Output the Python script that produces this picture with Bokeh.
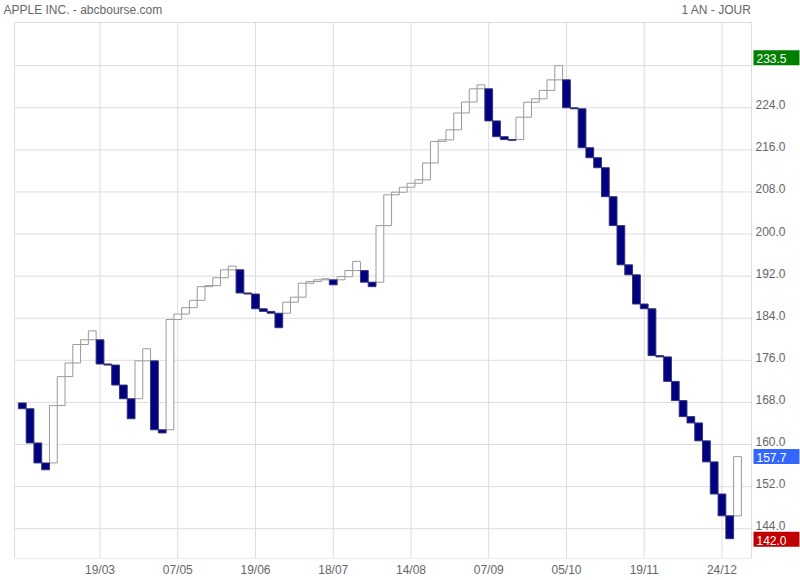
from bokeh.plotting import figure
from bokeh.models import ColumnDataSource, FixedTicker, Range1d
from bokeh.core.properties import value
from bokeh.embed import file_html
from bokeh.resources import INLINE

# ---- data (three-line-break boxes) ----
first_open = 167.9
closes = [166.8, 160.3, 156.5, 155.2, 167.4, 172.9, 175.5, 179.0, 179.9, 181.6,
          175.3, 175.1, 171.3, 168.7, 164.9, 175.9, 178.2, 162.8, 162.2, 183.75,
          184.8, 186.0, 187.4, 190.0, 190.2, 191.7, 193.2, 193.9, 188.8, 188.6,
          185.8, 185.3, 184.95, 182.2, 187.05, 188.0, 190.65, 190.97, 191.3, 191.5,
          190.35, 191.9, 193.06, 194.8, 190.85, 190.0, 201.6, 207.45, 207.95, 208.9,
          209.65, 210.3, 213.5, 217.6, 217.9, 219.8, 223.0, 225.1, 227.6, 228.35,
          221.5, 218.5, 217.95, 217.8, 222.2, 225.05, 225.7, 227.3, 229.3, 232.0,
          224.0, 223.8, 216.4, 214.5, 212.6, 207.1, 201.6, 194.15, 192.25, 186.7,
          185.8, 176.9, 176.65, 172.0, 168.35, 165.3, 164.1, 160.7, 156.7, 150.6,
          146.45, 142.1, 157.7]

tick_idx = [10, 20, 30, 40, 50, 60, 70, 80, 90]
tick_labels = ["19/03", "07/05", "19/06", "18/07", "14/08", "07/09", "05/10", "19/11", "24/12"]
y_label_ticks = [144, 152, 160, 168, 176, 184, 192, 200, 208, 216, 224]
y_grid_ticks = [144, 152, 160, 168, 176, 184, 192, 200, 208, 216, 224, 232]
mark_values = [233.5, 157.7, 142.0]
mark_colors = ["#008000", "#3366ff", "#c00000"]
title_left = "APPLE INC. - abcbourse.com"
title_right = "1 AN - JOUR"

# ---- layout constants ----
PX_X = 7.774      # pixels per box
PX_Y = 5.2625     # pixels per price unit
PLOT_X0, PLOT_X1 = -1.0, 93.8
PLOT_Y0, PLOT_Y1 = 138.34, 240.2
PAD_L, PAD_R, PAD_T = 14, 49, 22
FONT = "Liberation Sans"
GRAY = "#666666"
GRID = "#dddddd"

# ---- build boxes with line-break logic ----
opens = []
prev_o, prev_c = None, None
for i, c in enumerate(closes):
    if i == 0:
        o = first_open
    else:
        if prev_c > prev_o:  # previous box up
            o = prev_c if c > prev_c else prev_o
        else:
            o = prev_c if c < prev_c else prev_o
    opens.append(o)
    prev_o, prev_c = o, c

idx = list(range(len(closes)))
up = [c > o for o, c in zip(opens, closes)]


def box_source(keep):
    return ColumnDataSource(dict(
        left=[i - 0.5 for i, u in zip(idx, up) if u == keep],
        right=[i + 0.5 for i, u in zip(idx, up) if u == keep],
        top=[max(o, c) for o, c, u in zip(opens, closes, up) if u == keep],
        bottom=[min(o, c) for o, c, u in zip(opens, closes, up) if u == keep]))


src_up = box_source(True)
src_dn = box_source(False)

x_range = Range1d(PLOT_X0 - PAD_L / PX_X, PLOT_X1 + PAD_R / PX_X)
y_range = Range1d(PLOT_Y0, PLOT_Y1 + PAD_T / PX_Y)

p = figure(frame_width=800, frame_height=558, x_range=x_range, y_range=y_range,
           output_backend="svg", toolbar_location=None, title=None,
           y_axis_location=None,
           min_border_left=0, min_border_top=0, min_border_right=0, min_border_bottom=22)
p.background_fill_color = "white"
p.border_fill_color = "white"
p.outline_line_color = None
p.grid.visible = False

# gridlines limited to the plot area
p.segment(x0=tick_idx, y0=[PLOT_Y0] * len(tick_idx), x1=tick_idx, y1=[PLOT_Y1] * len(tick_idx),
          line_color=GRID, line_width=1)
p.segment(x0=[PLOT_X0] * len(y_grid_ticks), y0=y_grid_ticks,
          x1=[PLOT_X1] * len(y_grid_ticks), y1=y_grid_ticks,
          line_color=GRID, line_width=1)
# plot area border
p.quad(left=[PLOT_X0], right=[PLOT_X1], top=[PLOT_Y1], bottom=[PLOT_Y0],
       fill_color=None, line_color=GRID, line_width=1)

# x axis (real axis)
xa = p.xaxis[0]
xa.ticker = FixedTicker(ticks=tick_idx)
xa.major_label_overrides = {t: l for t, l in zip(tick_idx, tick_labels)}
xa.axis_line_color = None
xa.major_tick_line_color = None
xa.minor_tick_line_color = None
xa.major_tick_out = 0
xa.major_tick_in = 0
xa.major_label_text_font = FONT
xa.major_label_text_font_size = "12px"
xa.major_label_text_color = GRAY
xa.major_label_standoff = 4

# boxes
p.quad(left="left", right="right", top="top", bottom="bottom", source=src_up,
       fill_color="white", line_color="#999999", line_width=1)
p.quad(left="left", right="right", top="top", bottom="bottom", source=src_dn,
       fill_color="#000080", line_color="#35357a", line_width=1)

# price scale labels on the right (sitting just above their gridline)
p.text(x=[PLOT_X1] * len(y_label_ticks), y=y_label_ticks,
       text=[f"{t:.1f}" for t in y_label_ticks], x_offset=4, y_offset=-3,
       text_align="left", text_baseline="middle", text_font=value(FONT),
       text_font_size="12px", text_color=GRAY)

# highlighted price boxes
box_cx = PLOT_X1 + (2 + 23) / PX_X
p.rect(x=[box_cx] * len(mark_values), y=mark_values, width=46, height=15,
       width_units="screen", height_units="screen",
       fill_color=mark_colors, line_color=None)
p.text(x=[PLOT_X1] * len(mark_values), y=mark_values,
       text=[f"{v:.1f}" for v in mark_values], x_offset=5, y_offset=1,
       text_align="left", text_baseline="middle", text_font=value(FONT),
       text_font_size="12px", text_color="white")

# titles
y_top = y_range.end
p.text(x=[PLOT_X0], y=[y_top], text=[title_left], x_offset=-11, y_offset=2,
       text_align="left", text_baseline="top", text_font=value(FONT),
       text_font_size="12px", text_color=GRAY)
p.text(x=[PLOT_X1], y=[y_top], text=[title_right], x_offset=0, y_offset=2,
       text_align="right", text_baseline="top", text_font=value(FONT),
       text_font_size="12px", text_color=GRAY)

open("out.html", "w").write(file_html(p, INLINE))
